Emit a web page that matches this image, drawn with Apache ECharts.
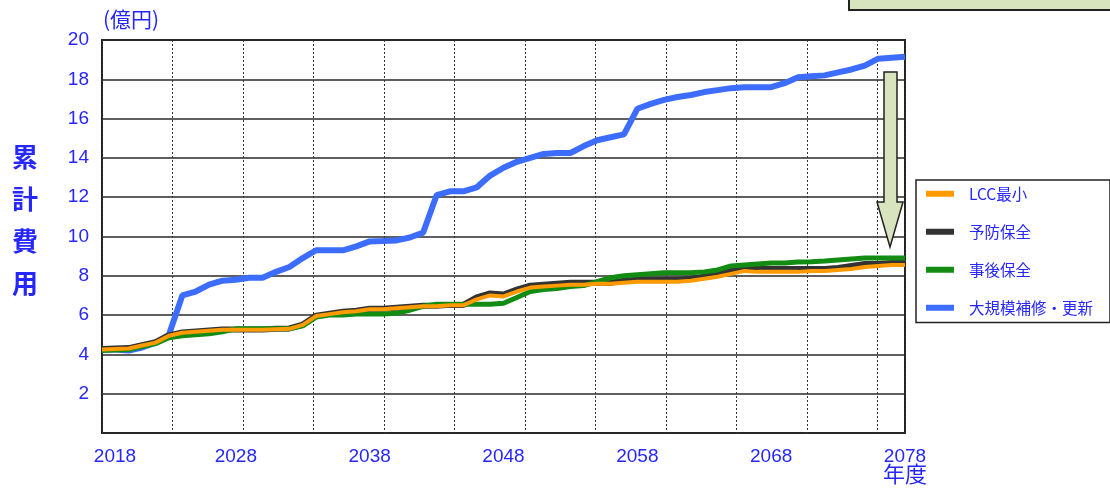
<!DOCTYPE html>
<html>
<head>
<meta charset="utf-8">
<script src="https://cdn.jsdelivr.net/npm/echarts@6/dist/echarts.min.js"></script>
<style>
  html, body { margin: 0; padding: 0; background: #fff; }
  #main { width: 1110px; height: 490px; }
</style>
</head>
<body>
<div id="main"></div>
<script>
// years 2018 .. 2078
var years = [];
for (var y = 2018; y <= 2078; y++) years.push(String(y));

var yTicks = [2, 4, 6, 8, 10, 12, 14, 16, 18, 20];

// 累計費用 (億円)
var lccMin = [4.25, 4.28, 4.3, 4.45, 4.6, 4.95, 5.1, 5.15, 5.2, 5.25,
  5.25, 5.25, 5.25, 5.28, 5.3, 5.5, 5.95, 6.05, 6.15, 6.2,
  6.3, 6.3, 6.35, 6.4, 6.45, 6.45, 6.5, 6.5, 6.8, 7.0,
  6.95, 7.2, 7.4, 7.45, 7.5, 7.55, 7.55, 7.6, 7.6, 7.65,
  7.7, 7.7, 7.7, 7.7, 7.75, 7.85, 7.95, 8.1, 8.25, 8.2,
  8.2, 8.2, 8.2, 8.25, 8.25, 8.3, 8.35, 8.45, 8.5, 8.55, 8.55];

var yobou = [4.27, 4.3, 4.32, 4.47, 4.62, 4.97, 5.12, 5.17, 5.22, 5.27,
  5.27, 5.27, 5.27, 5.3, 5.32, 5.52, 5.97, 6.07, 6.17, 6.22,
  6.32, 6.32, 6.37, 6.42, 6.47, 6.47, 6.52, 6.52, 6.9, 7.1,
  7.05, 7.3, 7.5, 7.55, 7.6, 7.65, 7.65, 7.65, 7.65, 7.75,
  7.8, 7.8, 7.8, 7.8, 7.85, 7.95, 8.05, 8.3, 8.35, 8.35,
  8.35, 8.35, 8.35, 8.35, 8.35, 8.4, 8.5, 8.6, 8.6, 8.65, 8.65];

var jigo = [4.2, 4.22, 4.25, 4.4, 4.55, 4.85, 4.95, 5.0, 5.05, 5.15,
  5.3, 5.3, 5.3, 5.3, 5.3, 5.45, 5.9, 6.0, 6.0, 6.05,
  6.05, 6.05, 6.1, 6.25, 6.45, 6.55, 6.55, 6.55, 6.55, 6.55,
  6.6, 6.9, 7.2, 7.3, 7.35, 7.45, 7.5, 7.7, 7.9, 8.0,
  8.05, 8.1, 8.15, 8.15, 8.15, 8.2, 8.3, 8.5, 8.55, 8.6,
  8.65, 8.65, 8.7, 8.72, 8.75, 8.8, 8.85, 8.9, 8.9, 8.9, 8.9];

var daikibo = [4.25, 4.25, 4.2, 4.35, 4.6, 5.0, 7.0, 7.2, 7.55, 7.75,
  7.8, 7.9, 7.9, 8.2, 8.45, 8.9, 9.3, 9.3, 9.3, 9.5,
  9.75, 9.77, 9.8, 9.95, 10.2, 12.1, 12.3, 12.3, 12.5, 13.1,
  13.5, 13.8, 14.0, 14.2, 14.25, 14.25, 14.6, 14.9, 15.05, 15.2,
  16.5, 16.75, 16.95, 17.1, 17.2, 17.35, 17.45, 17.55, 17.6, 17.6,
  17.6, 17.8, 18.1, 18.15, 18.2, 18.35, 18.5, 18.7, 19.05, 19.1, 19.15];

var blueText = '#2626ff';
var myChart = echarts.init(document.getElementById('main'));

var option = {
  backgroundColor: '#fff',
  animation: false,
  grid: {
    left: 102, right: 205, top: 40, bottom: 57,
    show: true, borderColor: '#222', borderWidth: 2, backgroundColor: '#fff'
  },
  legend: {
    orient: 'vertical',
    left: 916, top: 180,
    backgroundColor: '#fff',
    borderColor: '#222', borderWidth: 1.5,
    padding: [6, 17, 7, 10],
    itemGap: 22.5,
    itemWidth: 28, itemHeight: 6,
    icon: 'rect',
    textStyle: { color: blueText, fontSize: 15.5, padding: [0, 0, 0, 10], fontFamily: 'Noto Sans CJK JP' },
    data: ['LCC最小', '予防保全', '事後保全', '大規模補修・更新']
  },
  xAxis: [{
    type: 'category',
    data: years,
    boundaryGap: false,
    axisLine: { show: false },
    axisTick: { show: false },
    splitLine: { show: false },
    axisLabel: {
      interval: 9, margin: 14, color: blueText, fontSize: 19, fontFamily: 'Liberation Sans',
      formatter: function (v) { return v === '2018' ? '{first|' + v + '}' : v; },
      rich: { first: { padding: [0, 0, 0, 26], color: blueText, fontSize: 19, fontFamily: 'Liberation Sans' } }
    }
  }, {
    // dotted vertical guides
    type: 'value', position: 'bottom',
    min: 0, max: 11.39, interval: 1,
    axisLine: { show: false }, axisTick: { show: false }, axisLabel: { show: false },
    splitLine: { show: true, lineStyle: { color: '#333', type: [2, 2], width: 1 } }
  }],
  yAxis: {
    type: 'value', min: 0, max: 20, interval: 2,
    axisLine: { show: false }, axisTick: { show: false },
    axisLabel: {
      margin: 13, color: blueText, fontSize: 19, fontFamily: 'Liberation Sans',
      formatter: function (v) { return yTicks.indexOf(v) >= 0 ? String(v) : ''; }
    },
    splitLine: { show: true, lineStyle: { color: '#2a2a2a', width: 1.5 } }
  },
  series: [{
    name: '大規模補修・更新', type: 'line', data: daikibo, symbol: 'none', z: 2,
    color: '#3d6dff', lineStyle: { color: '#3d6dff', width: 6 }
  }, {
    name: '予防保全', type: 'line', data: yobou, symbol: 'none', z: 3,
    color: '#333', lineStyle: { color: '#333', width: 6 }
  }, {
    name: '事後保全', type: 'line', data: jigo, symbol: 'none', z: 4,
    color: '#138c13', lineStyle: { color: '#138c13', width: 5 }
  }, {
    name: 'LCC最小', type: 'line', data: lccMin, symbol: 'none', z: 5,
    color: '#ff9a00', lineStyle: { color: '#ff9a00', width: 4 }
  }],
  graphic: [{
    type: 'rect', left: 848, top: -11, z: 10,
    shape: { width: 280, height: 20 },
    style: { fill: '#d7e4bd', stroke: '#222', lineWidth: 2 }
  }, {
    type: 'polygon', z: 20,
    shape: { points: [[884, 72], [897, 72], [897, 202], [903, 202], [890, 247], [877, 202], [884, 202]] },
    style: { fill: '#d7e4bd', stroke: '#222', lineWidth: 1.5 }
  }, {
    type: 'text', left: 103, top: 9,
    style: { text: '(億円)', fill: blueText, font: '21px "Noto Sans CJK JP"' }
  }, {
    type: 'text', left: 12, top: 136,
    style: { text: '累\n計\n費\n用', fill: blueText, font: 'bold 26px "Noto Sans CJK JP"', lineHeight: 42 }
  }, {
    type: 'text', left: 883, top: 463,
    style: { text: '年度', fill: blueText, font: '22px "Noto Sans CJK JP"' }
  }]
};

myChart.setOption(option);
</script>
</body>
</html>
